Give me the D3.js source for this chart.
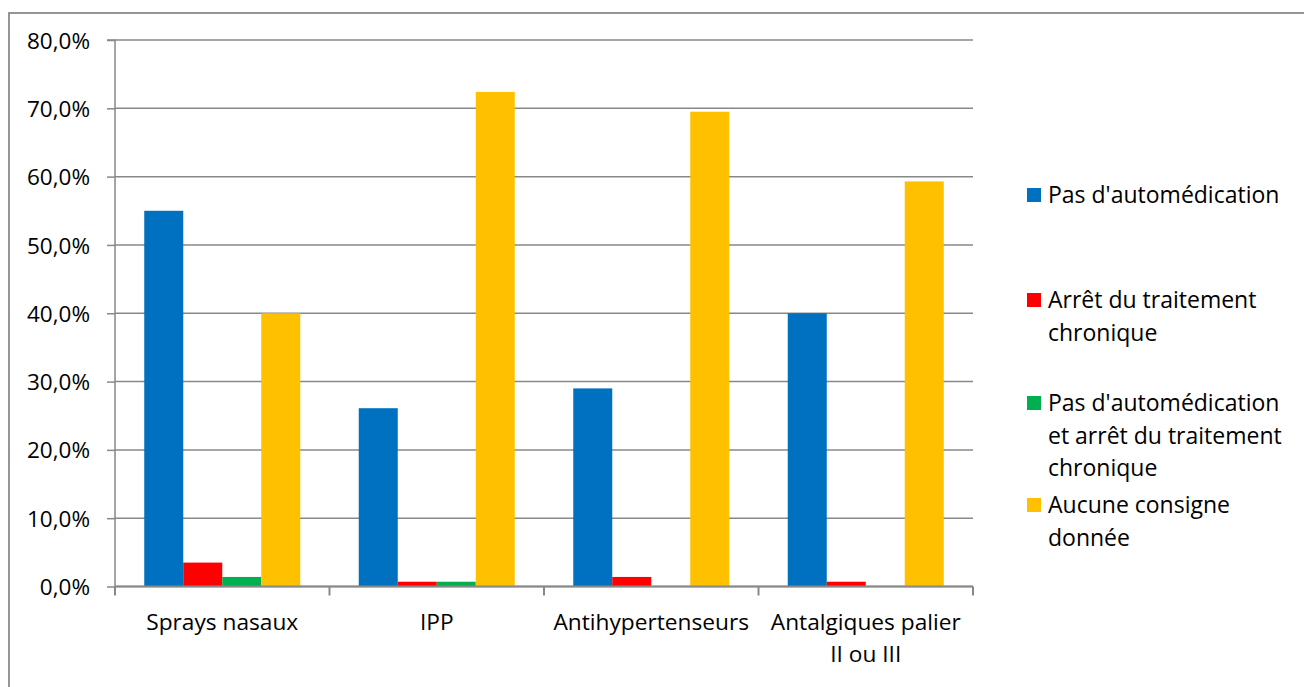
<!DOCTYPE html>
<html>
<head>
<meta charset="utf-8">
<script src="https://cdn.jsdelivr.net/npm/d3@7"></script>
<style>
  html, body { margin: 0; padding: 0; background: #fff; }
  svg { display: block; font-family: "Open Sans", "Noto Sans", sans-serif; }
</style>
</head>
<body>
<svg id="chart" width="1304" height="687"></svg>
<script>
// Categories (multi-line labels split on "\n")
const categories = ["Sprays nasaux", "IPP", "Antihypertenseurs", "Antalgiques palier\nII ou III"];
const seriesNames = [
  "Pas d'automédication",
  "Arrêt du traitement\nchronique",
  "Pas d'automédication\net arrêt du traitement\nchronique",
  "Aucune consigne\ndonnée"
];
const seriesColors = ["#0070C0", "#FF0000", "#00B050", "#FFC000"];
// Values in percent, one array per series, aligned to categories
const pasAutomedication = [55.0, 26.1, 29.0, 40.0];
const arretTraitement   = [3.5, 0.7, 1.4, 0.7];
const pasAutoEtArret    = [1.4, 0.7, 0, 0];
const aucuneConsigne    = [40.0, 72.4, 69.5, 59.3];
const yTicks = [0, 10, 20, 30, 40, 50, 60, 70, 80];

const series = [pasAutomedication, arretTraitement, pasAutoEtArret, aucuneConsigne];

const svg = d3.select("#chart");
const plotLeft = 115, plotRight = 973, plotTop = 40, plotBottom = 586.5;
const gridColor = "#888888";

// Chart area border
svg.append("rect")
  .attr("x", 9).attr("y", 13)
  .attr("width", 1304).attr("height", 700)
  .attr("fill", "none").attr("stroke", "#8a8a8a").attr("stroke-width", 1.8);

const y = d3.scaleLinear().domain([0, 80]).range([plotBottom, plotTop]);
const x0 = d3.scaleBand().domain(d3.range(categories.length)).range([plotLeft, plotRight]).paddingInner(0).paddingOuter(0);
// gap width 150% of a bar: 4 bars + 1.5 bar of gap per category
const barW = x0.bandwidth() / 5.5;
const x1 = d3.scaleBand().domain(d3.range(series.length))
  .range([barW * 0.75, barW * 0.75 + barW * 4]).padding(0);

// Horizontal gridlines
svg.append("g").selectAll("line").data(yTicks).join("line")
  .attr("x1", plotLeft).attr("x2", plotRight)
  .attr("y1", d => y(d)).attr("y2", d => y(d))
  .attr("stroke", gridColor).attr("stroke-width", 1.5);

// Bars
const groups = svg.append("g").selectAll("g").data(categories).join("g")
  .attr("transform", (d, i) => `translate(${x0(i)},0)`);
groups.selectAll("rect")
  .data((d, i) => series.map((s, k) => ({ k, v: s[i] })))
  .join("rect")
  .attr("x", d => x1(d.k))
  .attr("width", x1.bandwidth())
  .attr("y", d => y(d.v))
  .attr("height", d => plotBottom - y(d.v))
  .attr("fill", d => seriesColors[d.k]);

// Y axis
const yAxis = d3.axisLeft(y).tickValues(yTicks).tickSize(8)
  .tickFormat(d => d3.format(".1f")(d).replace(".", ",") + "%");
const gy = svg.append("g").attr("transform", `translate(${plotLeft},0)`).call(yAxis);
gy.select(".domain").attr("stroke", gridColor).attr("stroke-width", 1.5).attr("d", `M-8,${plotTop}H0V${plotBottom}`);
gy.selectAll(".tick line").attr("stroke", gridColor).attr("stroke-width", 1.5);
gy.selectAll(".tick text").attr("x", -25).attr("font-size", 22.5)
  .attr("font-family", "Open Sans").attr("fill", "#000").attr("dy", "0.36em");

// X axis with ticks at category boundaries
const boundaries = d3.range(categories.length + 1).map(i => plotLeft + i * x0.bandwidth());
const gx = svg.append("g");
gx.append("line").attr("x1", plotLeft).attr("x2", plotRight).attr("y1", plotBottom).attr("y2", plotBottom)
  .attr("stroke", gridColor).attr("stroke-width", 2);
gx.selectAll("line.tk").data(boundaries).join("line").attr("class", "tk")
  .attr("x1", d => d).attr("x2", d => d).attr("y1", plotBottom).attr("y2", plotBottom + 9)
  .attr("stroke", gridColor).attr("stroke-width", 2);
gx.selectAll("text").data(categories).join("text")
  .attr("x", (d, i) => x0(i) + x0.bandwidth() / 2)
  .attr("y", plotBottom + 43)
  .attr("text-anchor", "middle").attr("font-size", 22.7).attr("fill", "#000")
  .each(function(d, i) {
    d.split("\n").forEach((line, j) => {
      d3.select(this).append("tspan")
        .attr("x", x0(i) + x0.bandwidth() / 2)
        .attr("dy", j === 0 ? 0 : 32).text(line);
    });
  });

// Legend
const legendY = [195, 300, 403, 505];
const legend = svg.append("g").selectAll("g").data(seriesNames).join("g")
  .attr("transform", (d, i) => `translate(1027,${legendY[i]})`);
legend.append("rect").attr("x", 0).attr("y", -7).attr("width", 14).attr("height", 14)
  .attr("fill", (d, i) => seriesColors[i]);
legend.append("text").attr("font-size", 23).attr("fill", "#000")
  .each(function(d) {
    d.split("\n").forEach((line, j) => {
      d3.select(this).append("tspan").attr("x", 21).attr("y", j * 32.5).attr("dy", "0.35em").text(line);
    });
  });
</script>
</body>
</html>
